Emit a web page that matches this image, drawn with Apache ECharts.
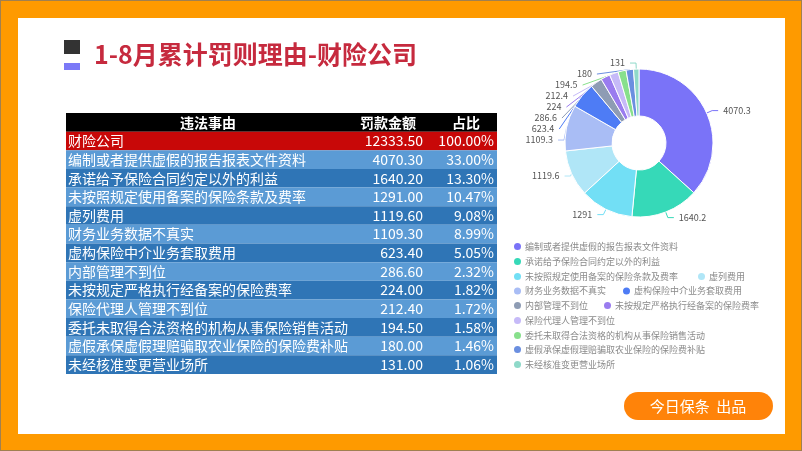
<!DOCTYPE html>
<html><head><meta charset="utf-8">
<script src="https://cdn.jsdelivr.net/npm/echarts@6/dist/echarts.min.js"></script>
<style>
html,body{margin:0;padding:0;}
#wrap{position:relative;width:802px;height:451px;background:#FE9A00;box-sizing:border-box;border:1px solid #a08050;}
#chart{position:absolute;left:0;top:0;width:802px;height:451px;}
</style></head>
<body><div id="wrap"><div id="chart"></div></div>
<script>
const titleText = '1-8月累计罚则理由-财险公司';
const headers = ['违法事由', '罚款金额', '占比'];
const categories = ['财险公司', '编制或者提供虚假的报告报表文件资料', '承诺给予保险合同约定以外的利益', '未按照规定使用备案的保险条款及费率', '虚列费用', '财务业务数据不真实', '虚构保险中介业务套取费用', '内部管理不到位', '未按规定严格执行经备案的保险费率', '保险代理人管理不到位', '委托未取得合法资格的机构从事保险销售活动', '虚假承保虚假理赔骗取农业保险的保险费补贴', '未经核准变更营业场所'];
const amounts = [12333.5, 4070.3, 1640.2, 1291.0, 1119.6, 1109.3, 623.4, 286.6, 224.0, 212.4, 194.5, 180.0, 131.0];
const shares = [100.00, 33.00, 13.30, 10.47, 9.08, 8.99, 5.05, 2.32, 1.82, 1.72, 1.58, 1.46, 1.06];
const pieColors = ['#7a73f8', '#36d9b8', '#72dff5', '#b0e6f7', '#a9bdf5', '#4e7cf5', '#8e9cb4', '#9a7cef', '#c6baf8', '#88e08c', '#6b8fe0', '#8fd9c9'];
const credit = '今日保条  出品';

const FONT = '"Noto Sans CJK SC","Noto Sans",sans-serif';
const chart = echarts.init(document.getElementById('chart'));

const tableRows = ['__header__'].concat(categories);
const tableData = tableRows.map((r, i) => [0.5, i]);

function renderRow(params, api) {
  const idx = api.value(1);
  const c = api.coord([0.5, idx]);
  const h = api.size([0, 1])[1];
  const cs = params.coordSys;
  const y0 = c[1] - h / 2;
  let fill;
  if (idx === 0) fill = '#000000';
  else if (idx === 1) fill = '#c80808';
  else fill = (idx % 2 === 0) ? '#5b9bd5' : '#2f75b6';
  const children = [{ type: 'rect', shape: { x: cs.x, y: y0, width: cs.width, height: h }, style: { fill: fill } }];
  const cy = c[1];
  if (idx === 0) {
    const centers = [142, 322, 400];
    headers.forEach((t, k) => children.push({ type: 'text', style: { text: t, x: cs.x + centers[k], y: cy, align: 'center', verticalAlign: 'middle', fill: '#fff', fontSize: 14, fontWeight: 'bold', fontFamily: FONT } }));
  } else {
    const k = idx - 1;
    children.push({ type: 'text', style: { text: categories[k], x: cs.x + 2, y: cy, align: 'left', verticalAlign: 'middle', fill: '#fff', fontSize: 14, fontFamily: FONT } });
    children.push({ type: 'text', style: { text: amounts[k].toFixed(2), x: cs.x + 357, y: cy, align: 'right', verticalAlign: 'middle', fill: '#fff', fontSize: 14, fontFamily: FONT } });
    children.push({ type: 'text', style: { text: shares[k].toFixed(2) + '%', x: cs.x + 428, y: cy, align: 'right', verticalAlign: 'middle', fill: '#fff', fontSize: 14, fontFamily: FONT } });
  }
  return { type: 'group', children: children };
}

const pieNames = categories.slice(1);
const pieData = pieNames.map((n, i) => ({ name: n, value: amounts[i + 1] }));

const legendRows = [[0], [1], [2, 3], [4, 5], [6, 7], [8], [9], [10], [11]];
const legendCenters = [247, 262, 277, 291.5, 306, 321, 336, 350, 365];
const legendGaps = [10, 10, 20, 17, 16, 10, 10, 10, 10];
const legends = legendRows.map((row, r) => ({
  left: 513, top: legendCenters[r] - 6, orient: 'horizontal', padding: 0,
  itemGap: legendGaps[r], itemWidth: 7, itemHeight: 7, icon: 'circle', itemStyle: { borderWidth: 0 },
  selectedMode: false,
  textStyle: { color: '#8a8a8a', fontSize: 9, fontFamily: FONT, padding: [0, 0, 0, -1] },
  data: row.map(i => pieNames[i])
}));

chart.setOption({
  animation: false,
  color: pieColors,
  graphic: [
    { type: 'rect', shape: { x: 17, y: 17, width: 767, height: 416 }, style: { fill: '#ffffff' }, z: -10 },
    { type: 'rect', shape: { x: 63, y: 39, width: 16, height: 14 }, style: { fill: '#333333' } },
    { type: 'rect', shape: { x: 63, y: 62, width: 16, height: 7 }, style: { fill: '#7b79f7' } },
    { type: 'text', style: { text: titleText, x: 93, y: 53, verticalAlign: 'middle', fill: '#c62a3e', fontSize: 25, fontWeight: 'bold', fontFamily: FONT } },
    { type: 'rect', shape: { x: 623, y: 391, width: 149, height: 28, r: 14 }, style: { fill: '#ff8309' } },
    { type: 'text', style: { text: credit, x: 697, y: 405, align: 'center', verticalAlign: 'middle', fill: '#ffffff', fontSize: 15, fontFamily: FONT } }
  ],
  legend: legends,
  grid: { left: 65, top: 112, width: 431, height: 261 },
  xAxis: { type: 'value', min: 0, max: 1, show: false },
  yAxis: { type: 'category', data: tableRows, inverse: true, show: false },
  series: [
    { type: 'custom', renderItem: renderRow, data: tableData, silent: true, encode: { x: 0, y: 1 } },
    {
      type: 'pie', center: [638, 142], radius: [27, 74], startAngle: 90,
      itemStyle: { borderColor: '#fff', borderWidth: 1 },
      label: { formatter: '{v|{c}}', rich: { v: { color: '#555', fontSize: 9, lineHeight: 4, height: 4, fontFamily: FONT } } },
      labelLine: { length: 6, length2: 6, lineStyle: { width: 1 } },
      data: pieData
    }
  ]
});
</script></body></html>
